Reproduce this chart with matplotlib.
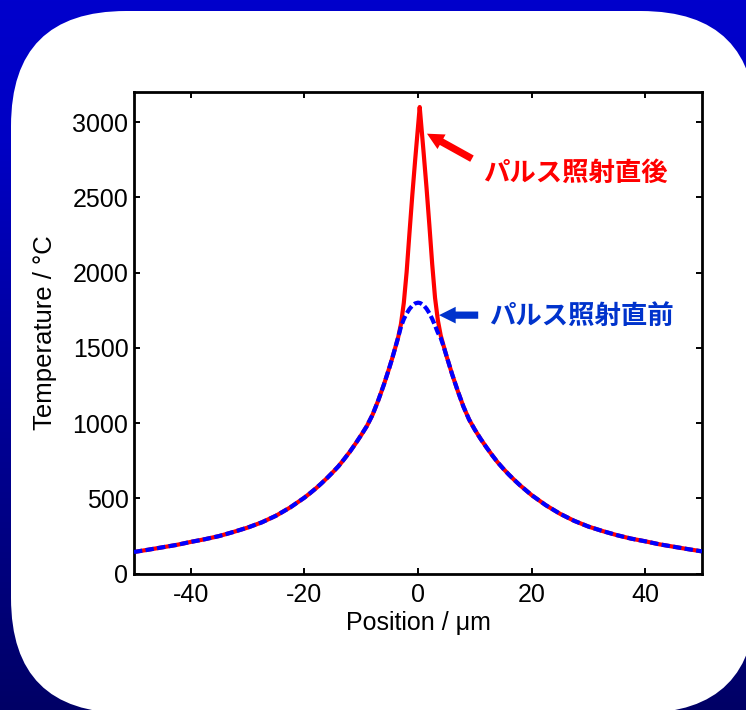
import numpy as np
import matplotlib
matplotlib.use('Agg')
import matplotlib.pyplot as plt
from matplotlib.colors import LinearSegmentedColormap
from matplotlib.patches import FancyBboxPatch

# temperature profile across the spot (um, deg C)
position = [-50, -47.5, -45, -42.5, -40, -37.5, -35, -32.5, -30, -27.5, -25, -22.5,
            -20, -19, -18, -17, -16, -15, -14, -13, -12, -11, -10, -9, -8, -7, -6, -5,
            -4.5, -4, -3.5, -3, -2.5, -2, -1.5, -1, -0.5, 0, 0.3, 0.5, 1, 1.5, 2, 2.5,
            3, 3.5, 4, 4.5, 5, 6, 7, 8, 9, 10, 11, 12, 13, 14, 15, 16, 17, 18, 19,
            20, 22.5, 25, 27.5, 30, 32.5, 35, 37.5, 40, 42.5, 45, 47.5, 50]
# just after the laser pulse
temp_after = [143, 158, 174, 190, 210, 228, 249, 276, 305, 340, 384, 439,
              504, 534, 565, 599, 635, 673, 713, 760, 809, 863, 920, 980, 1055, 1150, 1256, 1373,
              1435, 1501, 1568, 1658, 1798, 2004, 2264, 2516, 2748, 2968, 3100, 3012, 2792, 2564, 2316, 2056,
              1832, 1682, 1582, 1514, 1448, 1325, 1213, 1109, 1023, 956, 896, 841, 789, 740, 697, 657, 620, 585, 553,
              521, 454, 397, 350, 312, 282, 255, 232, 214, 194, 178, 162, 147]
# just before the laser pulse
temp_before = [143, 158, 174, 190, 210, 228, 249, 276, 305, 340, 384, 439,
               504, 534, 565, 599, 635, 673, 713, 760, 809, 863, 920, 980, 1055, 1150, 1256, 1373,
               1435, 1501, 1568, 1640, 1690, 1728, 1758, 1780, 1795, 1800, 1798, 1795, 1782, 1760, 1730, 1692,
               1648, 1600, 1565, 1510, 1448, 1325, 1213, 1109, 1023, 956, 896, 841, 789, 740, 697, 657, 620, 585, 553,
               521, 454, 397, 350, 312, 282, 255, 232, 214, 194, 178, 162, 147]

x_ticks = [-40, -20, 0, 20, 40]
y_ticks = [0, 500, 1000, 1500, 2000, 2500, 3000]

label_after = 'パルス照射直後'
label_before = 'パルス照射直前'

plt.rcParams['font.family'] = ['Liberation Sans', 'DejaVu Sans']
plt.rcParams['axes.unicode_minus'] = False
jp_font = ['Noto Sans CJK JP', 'DejaVu Sans']

W, H = 746, 710
fig = plt.figure(figsize=(W / 100, H / 100), dpi=100)

# slide background: blue gradient behind a white rounded panel
bg = fig.add_axes([0, 0, 1, 1])
bg.set_xlim(0, W)
bg.set_ylim(H, 0)
bg_cmap = LinearSegmentedColormap.from_list(
    'slide', [(0, '#0000CC'), (0.2, '#0000C4'), (1, '#000066')])
grad = np.linspace(0, 1, 256)[:, None]
bg.imshow(grad, cmap=bg_cmap, extent=(0, W, H, 0), aspect='auto')
panel = FancyBboxPatch((11, 11), 745, 702, boxstyle='round,pad=0,rounding_size=115',
                       fc='white', ec='none')
bg.add_patch(panel)
bg.axis('off')

ax = fig.add_axes([134 / W, 136.5 / H, 568 / W, 481.5 / H])
ax.patch.set_alpha(0)
ax.plot(position, temp_after, color='#FF0000', lw=3, zorder=2)
ax.plot(position, temp_before, color='#0000FF', lw=3, ls=(0, (2, 0.8)), zorder=3)

ax.set_xlim(-50, 50)
ax.set_ylim(0, 3200)
ax.set_xticks(x_ticks)
ax.set_yticks(y_ticks)
ax.tick_params(direction='in', length=4.5, width=1.4, top=True, right=True,
               labelsize=18, colors='black')
ax.tick_params(axis='x', pad=7)
ax.tick_params(axis='y', pad=4)
for s in ax.spines.values():
    s.set_linewidth(2)

ax.set_xlabel('Position / μm', fontsize=18, labelpad=3)
ax.set_ylabel('Temperature / °C', fontsize=18.5, labelpad=11)

arrow_style = 'simple,head_length=0.6,head_width=0.6,tail_width=0.26'
ax.annotate('', xy=(1.58, 2923), xytext=(9.5, 2757),
            arrowprops=dict(arrowstyle=arrow_style, mutation_scale=20,
                            color='#FF0000', lw=0, shrinkA=0, shrinkB=0))
ax.annotate('', xy=(3.7, 1717), xytext=(10.6, 1717),
            arrowprops=dict(arrowstyle=arrow_style, mutation_scale=20,
                            color='#0033CC', lw=0, shrinkA=0, shrinkB=0))

ax.text(11.4, 2657, label_after, color='#FF0000', fontsize=19, fontweight='bold',
        family=jp_font, ha='left', va='center')
ax.text(12.5, 1703, label_before, color='#0033CC', fontsize=19, fontweight='bold',
        family=jp_font, ha='left', va='center')

fig.savefig('out.png', dpi=100)
